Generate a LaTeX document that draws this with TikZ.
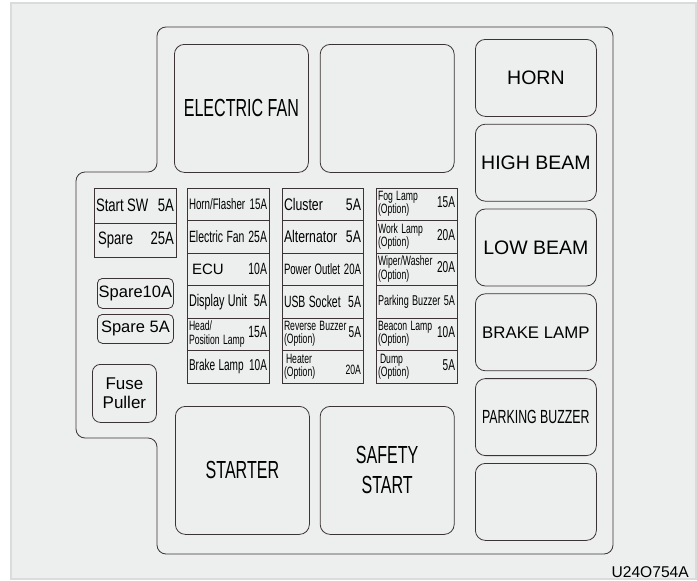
\documentclass[tikz,border=0pt]{standalone}
\usepackage{fontspec}
\setmainfont{Liberation Sans}
\newfontfamily\condfont[FakeStretch=0.65]{Liberation Sans}
\newfontfamily\fusefont[FakeStretch=0.64]{Liberation Sans}
\newfontfamily\softfont[FakeStretch=0.73]{Liberation Sans}
\usetikzlibrary{positioning}
\definecolor{boxline}{RGB}{60,52,52}
\definecolor{panelgray}{RGB}{237,238,238}
\definecolor{panelrim}{RGB}{218,219,219}
\newcommand{\fsz}[1]{\fontsize{#1}{#1}\selectfont}
\newcommand{\fuserow}[2]{\hbox to\hsize{#1\hfil #2}}
\newcommand{\twoln}[2]{{\fontsize{13.5}{11.5}\selectfont\begin{tabular}{@{}l@{}}#1\\#2\end{tabular}}}

\begin{document}
\begin{tikzpicture}[
  x=1pt, y=-1pt,
  relay/.style={draw=boxline, line width=0.8pt, rounded corners=10pt, minimum width=134pt,
                minimum height=128pt, anchor=north west, align=center, inner sep=2pt},
  sidebox/.style={relay, minimum width=121pt, minimum height=77pt, font=\fsz{19.5}},
  cell/.style={draw=boxline, line width=0.8pt, minimum height=32.5pt, text width=78pt,
               inner sep=2pt, outer sep=0pt, anchor=north west, font=\fusefont},
  narrowcell/.style={cell, text width=77pt},
  sparebox/.style={draw=boxline, line width=0.8pt, rounded corners=5pt, minimum width=76pt,
                   minimum height=30pt, anchor=north west, inner sep=1pt, font=\fsz{16.5}}
]
  \useasboundingbox (0,0) rectangle (697,581);
  \fill[white] (0,0) rectangle (697,581);
  \draw[panelrim, line width=1.5pt, fill=panelgray] (11,3) rectangle (696,579);

  % housing outline
  \draw[boxline, line width=0.8pt, rounded corners=9pt]
    (300,27) -- (613,27) -- (613,554) -- (157,554) -- (157,438) -- (76,438)
    -- (76,172) -- (157,172) -- (157,27) -- cycle;

  \node[relay, font=\condfont\fsz{24.7}] (efan) at (174,44) {ELECTRIC FAN};
  \node[relay, right=11pt of efan] (blanktop) {};
  \node[relay, font=\condfont\fsz{24.7}] (starter) at (175,406) {STARTER};
  \node[relay, right=10pt of starter, font=\condfont\fontsize{24.7}{30}\selectfont] (safety) {SAFETY\\START};

  \node[sidebox] (horn) at (475,39) {HORN};
  \node[sidebox, below=7pt of horn] (highbeam) {HIGH BEAM};
  \node[sidebox, below=7pt of highbeam] (lowbeam) {LOW BEAM};
  \node[sidebox, below=7pt of lowbeam, font=\fsz{16.8}] (brakelamp) {BRAKE LAMP};
  \node[sidebox, below=7pt of brakelamp, font=\condfont\fsz{19}] (parkbuzz) {PARKING BUZZER};
  \node[sidebox, below=7pt of parkbuzz] (blankside) {};

  \node[cell, minimum height=35pt, font=\softfont] (startsw) at (94,188) {\fsz{18}\fuserow{Start SW}{5A}};
  \node[cell, minimum height=34pt, below=0pt of startsw, font=\softfont] (spare25) {\fsz{18}\fuserow{\hspace{2pt}Spare}{25A}};
  \node[sparebox] (spare10) at (97,278) {Spare10A};
  \node[sparebox, minimum height=29pt] (spare5) at (97,314) {Spare 5A};
  \node[sparebox, rounded corners=8pt, minimum width=64pt, minimum height=58pt, align=center,
        font=\fontsize{17}{19}\selectfont] (puller) at (92,364) {Fuse\\Puller};

  \node[cell] (ca1) at (187,188) {\fsz{15.2}\fuserow{Horn/Flasher}{15A}};
  \node[cell, below=0pt of ca1] (ca2) {\fsz{16.3}\fuserow{Electric Fan}{25A}};
  \node[cell, below=0pt of ca2] (ca3) {\fsz{16.3}\fuserow{\hspace{3pt}{\rmfamily\fsz{15}ECU}}{10A}};
  \node[cell, below=0pt of ca3] (ca4) {\fsz{16.9}\fuserow{Display Unit}{5A}};
  \node[cell, below=0pt of ca4] (ca5) {\fsz{16.3}\fuserow{\twoln{Head/}{Position Lamp}}{15A}};
  \node[cell, below=0pt of ca5] (ca6) {\fsz{15.7}\fuserow{Brake Lamp}{10A}};

  \node[narrowcell, font=\softfont] (cb1) at (282,188) {\fsz{16.8}\fuserow{Cluster}{5A}};
  \node[narrowcell, below=0pt of cb1, font=\softfont] (cb2) {\fsz{16.8}\fuserow{Alternator}{5A}};
  \node[narrowcell, below=0pt of cb2] (cb3) {\fsz{15}\fuserow{Power Outlet}{20A}};
  \node[narrowcell, below=0pt of cb3] (cb4) {\fsz{16.3}\fuserow{USB Socket}{5A}};
  \node[narrowcell, below=0pt of cb4] (cb5) {\fsz{15.75}\fuserow{\twoln{Reverse Buzzer}{(Option)}}{5A}};
  \node[narrowcell, below=0pt of cb5] (cb6) {\fsz{13.5}\fuserow{\twoln{\hspace{2pt}Heater}{(Option)}}{\raisebox{-4pt}{20A}}};

  \node[narrowcell] (cc1) at (376,188) {\fsz{15.75}\fuserow{\twoln{Fog Lamp}{(Option)}}{15A}};
  \node[narrowcell, below=0pt of cc1] (cc2) {\fsz{15.75}\fuserow{\twoln{Work Lamp}{(Option)}}{20A}};
  \node[narrowcell, below=0pt of cc2] (cc3) {\fsz{15.75}\fuserow{\twoln{Wiper/Washer}{(Option)}}{20A}};
  \node[narrowcell, below=0pt of cc3] (cc4) {\fsz{14.2}\fuserow{Parking Buzzer}{5A}};
  \node[narrowcell, below=0pt of cc4] (cc5) {\fsz{15.75}\fuserow{\twoln{Beacon Lamp}{(Option)}}{10A}};
  \node[narrowcell, below=0pt of cc5] (cc6) {\fsz{15.75}\fuserow{\twoln{\hspace{2pt}Dump}{(Option)}}{5A}};

  \node[anchor=base east, inner sep=0pt, font=\fsz{15.6}] (code) at (689,577) {U24O754A};
\end{tikzpicture}
\end{document}
